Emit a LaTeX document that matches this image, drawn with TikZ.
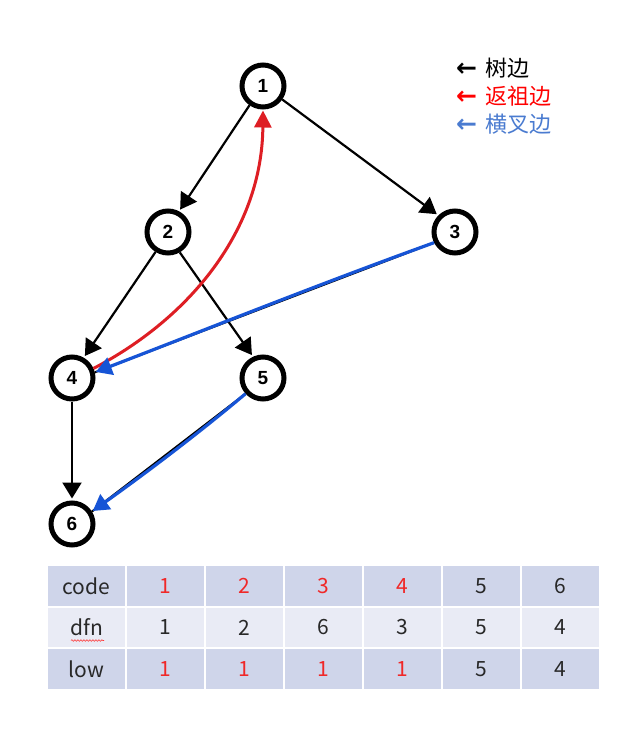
\documentclass[tikz,border=0pt]{standalone}
\usepackage{fontspec}
\setmainfont{Noto Sans CJK SC}
\newfontfamily\lblfont{Liberation Sans}
\newfontfamily\arrfont{DejaVu Sans}
\usetikzlibrary{arrows.meta,decorations.pathmorphing}
\definecolor{tred}{RGB}{240,40,40}
\definecolor{tdark}{RGB}{40,40,40}
\definecolor{rowA}{RGB}{207,213,234}
\definecolor{rowB}{RGB}{233,235,245}
\definecolor{hblue}{RGB}{22,84,214}
\definecolor{hred}{RGB}{222,30,36}
\definecolor{lblue}{RGB}{74,123,208}
\tikzset{
  vtx/.style={circle, draw=black, line width=5pt, minimum size=42pt, inner sep=0pt,
    font=\lblfont\bfseries\fontsize{19}{19}\selectfont},
  treeedge/.style={line width=2.2pt, -{Triangle[length=16pt,width=19pt]}, shorten >=2pt},
  backedge/.style={hred, line width=3pt, -{Triangle[length=17pt,width=17pt]}, shorten >=1pt},
  crossedge/.style={hblue, line width=3.2pt, -{Triangle[length=16pt,width=18pt]}, shorten >=1pt},
  under/.style={black, line width=2pt},
  legend/.style={anchor=west, inner sep=0pt, font=\fontsize{22}{22}\selectfont},
  cell/.style={rectangle, draw=white, line width=2pt, minimum width=79pt, minimum height=41.5pt,
    inner sep=0pt, font=\fontsize{21}{21}\selectfont}
}
\begin{document}
\begin{tikzpicture}[x=1pt,y=-1pt]
\fill[white] (0,0) rectangle (632,733);
\useasboundingbox (0,0) rectangle (632,733);

% vertices
\node[vtx] (n1) at (263,86) {1};
\node[vtx] (n2) at (168,232) {2};
\node[vtx] (n3) at (455,232) {3};
\node[vtx] (n4) at (72,378) {4};
\node[vtx] (n5) at (263,378) {5};
\node[vtx] (n6) at (72,524) {6};

% tree edges
\draw[treeedge] (n1.235) -- (n2.62);
\draw[treeedge] (n1.-35) -- (n3.135);
\draw[treeedge] (n2.238) -- (n4.60);
\draw[treeedge] (n2.-60) -- (n5.115);
\draw[treeedge] (n4.south) -- (n6.north);

% back edge 4 -> 1
\draw[backedge] (n4.24) .. controls (190,318) and (262,230) .. (n1.south);

% cross edges
\draw[under] (n3.207) -- (n4.14);
\draw[crossedge] (n3.207) .. controls (322,283) and (210,328) .. (n4.14);
\draw[under] (n5.222) -- (n6.32);
\draw[crossedge] (n5.222) .. controls (200,432) and (150,470) .. (n6.32);

% legend
\node[legend, text=black] (lg1) at (456,68) {{\arrfont\bfseries\fontsize{25}{25}\selectfont ←}\hspace{8pt}树边};
\node[legend, text=red] (lg2) at (456,96) {{\arrfont\bfseries\fontsize{25}{25}\selectfont ←}\hspace{8pt}返祖边};
\node[legend, text=lblue] (lg3) at (456,124) {{\arrfont\bfseries\fontsize{25}{25}\selectfont ←}\hspace{8pt}横叉边};

% table
\foreach \c/\t/\k in {0/code/tdark,1/1/tred,2/2/tred,3/3/tred,4/4/tred,5/5/tdark,6/6/tdark}
  \node[cell, fill=rowA, text=\k] (ra\c) at ({86.5+79*\c},586) {\t};
\foreach \c/\t/\k in {0/dfn/tdark,1/1/tdark,2/2/tdark,3/6/tdark,4/3/tdark,5/5/tdark,6/4/tdark}
  \node[cell, fill=rowB, text=\k] (rb\c) at ({86.5+79*\c},627.5) {\t};
\foreach \c/\t/\k in {0/low/tdark,1/1/tred,2/1/tred,3/1/tred,4/1/tred,5/5/tdark,6/4/tdark}
  \node[cell, fill=rowA, text=\k] (rc\c) at ({86.5+79*\c},669) {\t};
\coordinate (sq1) at (71,640.5);
\coordinate (sq2) at (104,640.5);
\draw[red!80, line width=0.6pt, decorate, decoration={snake, amplitude=0.8pt, segment length=3pt}] (sq1) -- (sq2);
\end{tikzpicture}
\end{document}
